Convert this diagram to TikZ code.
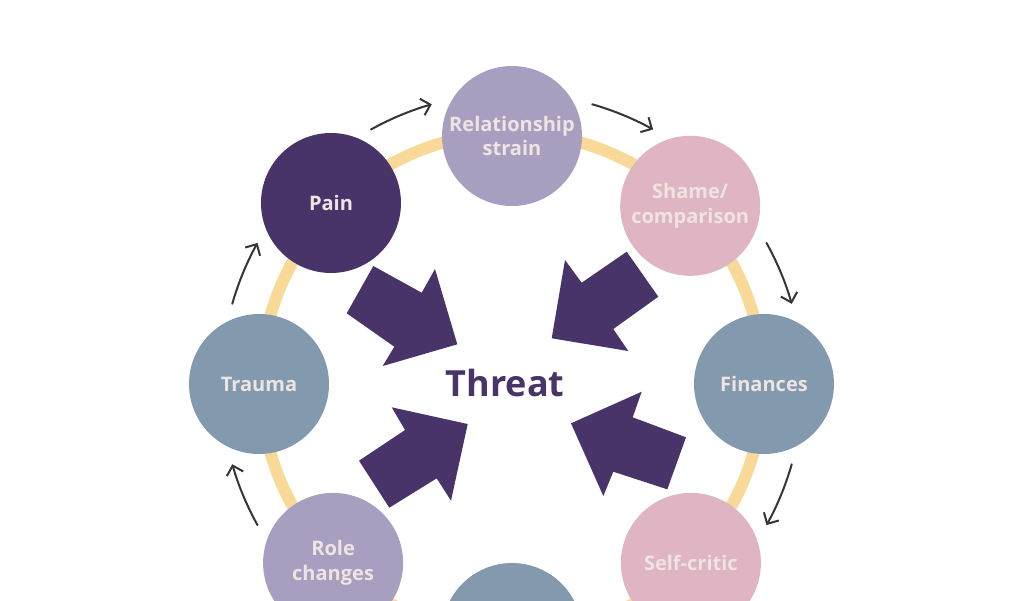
\documentclass[tikz,border=0pt]{standalone}
\usepackage{fontspec}
\setmainfont{Open Sans}
\usetikzlibrary{arrows.meta,calc}
\definecolor{darkpurple}{HTML}{483468}
\definecolor{lavender}{HTML}{A89FC0}
\definecolor{rosepink}{HTML}{E0B5C3}
\definecolor{bluegrey}{HTML}{8299AE}
\definecolor{ringyellow}{HTML}{F9D998}
\definecolor{labeltext}{HTML}{EEE4E2}
\definecolor{curvegrey}{HTML}{363636}
\tikzset{
  bubble/.style={circle, minimum size=140*0.02cm, inner sep=0pt, align=center,
    text=labeltext, font=\fontsize{11.4}{14.2}\selectfont\bfseries},
  flowcurve/.style={draw=curvegrey, line width=1.15pt, line cap=round,
    -{Straight Barb[length=1.7mm,width=3.4mm,line width=1.15pt]}},
  bigarrow/.style={fill=darkpurple, draw=none},
}
\begin{document}
\begin{tikzpicture}[x=0.02cm,y=-0.02cm]
\useasboundingbox (0,0) rectangle (1024,600);
\clip (0,0) rectangle (1024,600);
\coordinate (c) at (512,384);
% ring
\draw[ringyellow, line width=12*0.02cm] (c) circle[radius=251];
% bubbles
\node[bubble, fill=lavender]   (rel)   at ($(c)+(-90:248)$)  {Relationship\\strain};
\node[bubble, fill=rosepink]   (shame) at ($(c)+(-45:252)$)  {Shame/\\comparison};
\node[bubble, fill=bluegrey]   (fin)   at ($(c)+(0:252)$)    {Finances};
\node[bubble, fill=rosepink]   (self)  at ($(c)+(45:253)$)   {Self-critic};
\node[bubble, fill=bluegrey]   (bot)   at ($(c)+(90:249)$)   {};
\node[bubble, fill=lavender]   (role)  at ($(c)+(135:253)$)  {Role\\changes};
\node[bubble, fill=bluegrey]   (trauma) at ($(c)+(180:253)$) {Trauma};
\node[bubble, fill=darkpurple] (pain)  at ($(c)+(-135:256)$) {Pain};
% centre
\node[text=darkpurple, font=\fontsize{20.5}{24}\selectfont\bfseries] (threat) at (505,383) {Threat};
% small curved arrows (clockwise on screen)
\foreach \a in {-112.5,-67.5,-22.5,22.5,157.5,202.5}{
  \draw[flowcurve] ($(c)+({\a-6.5}:291)$) arc[start angle={\a-6.5}, end angle={\a+6.5}, radius=291];
}
% big block arrows
\fill[bigarrow] (373.3,266) -- (421.7,292.7) -- (435,269) -- (457.3,344.3) -- (382.7,366) -- (394.3,346.7) -- (346.7,313.3) -- cycle;
\fill[bigarrow] (626.7,251.7) -- (658.3,296.7) -- (613.3,329) -- (628.3,351) -- (551.7,338.3) -- (565,260) -- (581.7,282.7) -- cycle;
\fill[bigarrow] (359,460.7) -- (405,430) -- (391.7,407.3) -- (467.7,424) -- (451,500.7) -- (436.7,478.3) -- (389.3,507.7) -- cycle;
\fill[bigarrow] (686,437.3) -- (667.3,489.3) -- (613.3,471.7) -- (603.3,496) -- (571,423.3) -- (641.7,391.7) -- (632.7,417.3) -- cycle;
\end{tikzpicture}
\end{document}
